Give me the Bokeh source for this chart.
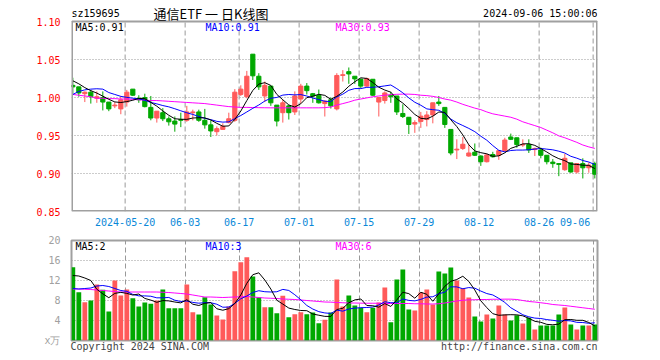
from bokeh.plotting import figure
from bokeh.layouts import column
from bokeh.models import Range1d, FixedTicker, NumeralTickFormatter, Label, ColumnDataSource
from bokeh.core.properties import value
from bokeh.embed import file_html
from bokeh.resources import INLINE

# ---------------- data ----------------
opens = [1.016, 1.014, 1.005, 1.007, 0.999, 1.000, 0.994, 0.989, 0.985, 0.994,
         1.011, 0.999, 1.000, 0.987, 0.973, 0.980, 0.972, 0.969, 0.971, 0.970,
         0.980, 0.981, 0.970, 0.964, 0.955, 0.958, 0.967, 0.970, 1.004, 1.001,
         1.057, 1.028, 1.002, 1.015, 0.990, 0.980, 0.989, 0.981, 0.998, 1.015,
         1.005, 1.003, 0.992, 0.997, 0.985, 1.029, 1.034, 1.028, 1.024, 1.015,
         1.024, 0.994, 0.996, 1.003, 1.002, 0.979, 0.974, 0.965, 0.9685, 0.971,
         0.977, 0.994, 0.987, 0.958, 0.931, 0.933, 0.923, 0.928, 0.923, 0.9155,
         0.925, 0.924, 0.930, 0.948, 0.947, 0.9375, 0.938, 0.9315, 0.931, 0.924,
         0.915, 0.913, 0.905, 0.914, 0.902, 0.913, 0.9075, 0.913]
highs = [1.026, 1.014, 1.008, 1.010, 1.008, 1.008, 0.994, 0.994, 1.002, 1.010,
         1.011, 1.003, 1.005, 1.002, 0.982, 0.986, 0.975, 0.975, 0.980, 0.989,
         0.984, 0.984, 0.985, 0.970, 0.962, 0.966, 0.980, 1.011, 1.016, 1.035,
         1.057, 1.032, 1.021, 1.015, 0.990, 0.997, 0.990, 1.008, 1.018, 1.019,
         1.006, 1.0105, 0.9965, 1.000, 1.032, 1.036, 1.0395, 1.028, 1.025, 1.026,
         1.024, 1.000, 1.008, 1.0075, 1.002, 0.991, 0.974, 0.970, 0.981, 0.982,
         0.993, 1.002, 0.987, 0.958, 0.945, 0.948, 0.938, 0.9395, 0.924, 0.926,
         0.9285, 0.930, 0.947, 0.9525, 0.947, 0.945, 0.945, 0.934, 0.934, 0.924,
         0.919, 0.913, 0.926, 0.914, 0.913, 0.920, 0.9145, 0.9155]
lows = [1.005, 1.001, 0.994, 0.992, 0.993, 0.983, 0.982, 0.986, 0.978, 0.988,
        1.002, 0.993, 0.987, 0.970, 0.967, 0.969, 0.963, 0.955, 0.961, 0.968,
        0.970, 0.968, 0.959, 0.948, 0.950, 0.958, 0.966, 0.968, 1.002, 0.999,
        1.023, 1.010, 0.994, 0.989, 0.962, 0.967, 0.971, 0.977, 0.992, 1.004,
        0.993, 0.992, 0.975, 0.9855, 0.983, 1.021, 1.018, 1.018, 1.012, 1.014,
        1.002, 0.975, 0.992, 0.993, 0.977, 0.973, 0.952, 0.9535, 0.960, 0.962,
        0.966, 0.989, 0.960, 0.924, 0.919, 0.931, 0.922, 0.923, 0.910, 0.9145,
        0.921, 0.918, 0.9285, 0.944, 0.934, 0.935, 0.927, 0.923, 0.920, 0.912,
        0.9075, 0.8965, 0.9035, 0.901, 0.900, 0.8935, 0.901, 0.8935]
closes = [1.014, 1.006, 1.007, 1.001, 1.001, 0.994, 0.985, 0.990, 0.997, 1.007,
          1.003, 0.997, 0.988, 0.973, 0.982, 0.972, 0.968, 0.965, 0.970, 0.981,
          0.981, 0.970, 0.964, 0.956, 0.959, 0.962, 0.972, 1.007, 1.011, 1.028,
          1.0285, 1.014, 1.016, 0.993, 0.969, 0.993, 0.980, 1.002, 1.015, 1.009,
          1.002, 0.993, 0.995, 0.989, 1.029, 1.030, 1.031, 1.0245, 1.015, 1.025,
          1.003, 1.000, 1.006, 1.001, 0.981, 0.975, 0.9645, 0.967, 0.9755, 0.977,
          0.993, 0.992, 0.9645, 0.927, 0.932, 0.9385, 0.927, 0.924, 0.9155, 0.9245,
          0.922, 0.930, 0.944, 0.945, 0.938, 0.938, 0.931, 0.933, 0.924, 0.9155,
          0.913, 0.912, 0.920, 0.902, 0.913, 0.9075, 0.911, 0.899]
volumes = [14.67, 9.67, 7.67, 8.0, 11.2, 10.13, 5.8, 12.0, 9.0, 10.2,
           8.47, 6.8, 7.6, 7.33, 8.0, 10.2, 6.47, 6.47, 6.47, 11.2,
           5.67, 5.2, 8.67, 7.2, 5.0, 4.2, 6.8, 13.87, 15.67, 16.67,
           12.8, 8.67, 6.67, 6.67, 5.47, 8.93, 4.67, 5.27, 5.67, 5.27,
           5.6, 3.47, 4.13, 5.6, 12.2, 6.8, 9.0, 7.0, 6.53, 5.67,
           6.53, 7.6, 10.6, 3.67, 12.2, 14.2, 6.2, 6.0, 9.6, 10.2,
           7.2, 13.8, 13.4, 14.6, 12.0, 10.47, 8.6, 4.8, 3.8, 5.2,
           4.4, 7.0, 5.2, 4.0, 5.07, 3.4, 4.53, 2.2, 3.0, 3.0,
           3.0, 5.2, 6.6, 3.2, 2.2, 3.0, 3.0, 3.2]

# moving-average values at the start of the window
ma5_head = [1.022, 1.018, 1.013, 1.009]
ma10_head = [1.004, 1.008, 1.010, 1.011, 1.0115, 1.011, 1.0065, 1.004, 1.0015]
ma30_price = [1.004, 1.003, 1.002, 1.001, 0.999, 0.999, 0.9985, 0.9985, 0.998, 0.998,
              0.9975, 0.997, 0.9965, 0.996, 0.996, 0.9955, 0.995, 0.9945, 0.994, 0.9935,
              0.993, 0.9925, 0.992, 0.991, 0.990, 0.989, 0.988, 0.9875, 0.987, 0.987,
              0.9868, 0.9866, 0.9865, 0.9864, 0.9864, 0.9864, 0.9864, 0.9864, 0.9864, 0.9864,
              0.9864, 0.9864, 0.9866, 0.9875, 0.990, 0.992, 0.994, 0.9965, 0.998, 0.9995,
              1.001, 1.002, 1.003, 1.0038, 1.0042, 1.0044, 1.0044, 1.004, 1.003, 1.0025,
              1.0015, 1.000, 0.998, 0.9965, 0.994, 0.991, 0.9885, 0.986, 0.984, 0.981,
              0.9785, 0.977, 0.9755, 0.974, 0.9715, 0.968, 0.9655, 0.963, 0.9605, 0.957,
              0.9535, 0.9495, 0.947, 0.944, 0.941, 0.9375, 0.935, 0.933]
vol_ma5_head = [13.0, 12.9, 12.5, 12.0]
vol_ma10_head = [10.4, 10.3, 10.4, 10.5, 10.9, 11.0, 10.8, 10.4, 10.0]
vol_ma30 = [10.3, 10.3, 10.25, 10.2, 10.1, 10.0, 9.9, 9.8, 9.7, 9.7,
            9.7, 9.7, 9.7, 9.7, 9.7, 9.65, 9.6, 9.5, 9.4, 9.3,
            9.1, 8.9, 8.7, 8.7, 8.65, 8.6, 8.65, 8.7, 8.75, 8.8,
            8.7, 8.6, 8.5, 8.45, 8.4, 8.3, 8.25, 8.2, 8.1, 8.0,
            7.9, 7.8, 7.7, 7.67, 7.6, 7.55, 7.5, 7.5, 7.47, 7.45,
            7.45, 7.45, 7.4, 7.4, 7.4, 7.4, 7.4, 7.35, 7.35, 7.3,
            7.3, 7.35, 7.5, 7.7, 7.9, 8.05, 8.13, 8.15, 8.2, 8.2,
            8.25, 8.25, 8.27, 8.27, 8.2, 8.0, 7.8, 7.7, 7.55, 7.4,
            7.2, 7.1, 7.0, 6.85, 6.7, 6.55, 6.4, 6.25]

tick_index = [9, 19, 28, 38, 48, 58, 68, 78, 87]
tick_labels = ["2024-05-20", "06-03", "06-17", "07-01", "07-15", "07-29", "08-12", "08-26", "09-06"]
price_ticks = [0.85, 0.90, 0.95, 1.00, 1.05, 1.10]
vol_ticks = [0, 4, 8, 12, 16, 20]

header_code = "sz159695"
header_title = "通信ETF 一 日K线图"
header_time = "2024-09-06 15:00:06"
price_ma_text = ["MA5:0.91", "MA10:0.91", "MA30:0.93"]
vol_ma_text = ["MA5:2", "MA10:3", "MA30:6"]
vol_unit = "x万"
foot_left = "Copyright 2024 SINA.COM"
foot_right = "http://finance.sina.com.cn"

# ---------------- helpers ----------------
def rolling(vals, n, head):
    out = list(head)
    for i in range(len(head), len(vals)):
        out.append(sum(vals[i - n + 1:i + 1]) / n)
    return out

RED = "#ff5a5a"
GREEN = "#00a800"
MONO = "DejaVu Sans Mono"
CHAR_W = 6.02  # advance of MONO at 10px
GRID = "#999999"
FRAME = "#a0a0a0"

n = len(closes)
X_OFF = 0.28
xs = [i + X_OFF for i in range(n)]
cols = [RED if c >= o else GREEN for o, c in zip(opens, closes)]

src = ColumnDataSource(dict(
    x=xs, o=opens, h=highs, l=lows, c=closes,
    top=[max(o, c) for o, c in zip(opens, closes)],
    bot=[min(o, c) for o, c in zip(opens, closes)],
    color=cols, vol=volumes,
    ma5=rolling(closes, 5, ma5_head), ma10=rolling(closes, 10, ma10_head), ma30=ma30_price,
    vma5=rolling(volumes, 5, vol_ma5_head), vma10=rolling(volumes, 10, vol_ma10_head), vma30=vol_ma30,
))

W = 656
FRAME_L = 71
FRAME_W = 526
BR = W - FRAME_L - FRAME_W
x_range = Range1d(0.06, 0.06 + FRAME_W / 6.0)
PX = (x_range.end - x_range.start) / FRAME_W


def px_to_x(page_x):
    return x_range.start + (page_x - FRAME_L) * PX


def style_axes(p):
    p.background_fill_color = "white"
    p.border_fill_color = "white"
    for ax in p.yaxis:
        ax.axis_line_color = None
        ax.major_tick_line_color = None
        ax.minor_tick_line_color = None
        ax.major_label_text_font = MONO
        ax.major_label_text_font_size = "10px"
        ax.major_label_standoff = 5
    p.ygrid.grid_line_color = GRID
    p.ygrid.grid_line_dash = "1 2"
    for ax in p.xaxis:
        ax.axis_line_color = None
        ax.major_tick_line_color = None
        ax.minor_tick_line_color = None
        ax.major_tick_out = 0
        ax.major_label_text_font = MONO
        ax.major_label_text_font_size = "10px"


# ---------------- price panel (the header row lives in the top of its frame) ----------------
P_LO, P_HI = price_ticks[0], price_ticks[-1]
P_PANEL_H = 190          # pixels from 1.10 to 0.85
HEAD_H = 21              # header strip above the price panel
PY = (P_HI - P_LO) / P_PANEL_H
p1 = figure(width=W, height=HEAD_H + P_PANEL_H + 19, x_range=x_range,
            y_range=Range1d(P_LO, P_HI + HEAD_H * PY),
            output_backend="svg", toolbar_location=None,
            min_border_left=FRAME_L, min_border_right=BR, min_border_top=0, min_border_bottom=19)
style_axes(p1)
p1.outline_line_color = None
p1.xgrid.visible = False
p1.yaxis.ticker = FixedTicker(ticks=price_ticks)
p1.yaxis.formatter = NumeralTickFormatter(format="0.00")
p1.yaxis.major_label_text_color = "#ff0000"

label_pos = tick_index[:-1] + [tick_index[-1] - 3]
p1.xaxis.ticker = FixedTicker(ticks=label_pos)
p1.xaxis.major_label_overrides = {k: v for k, v in zip(label_pos, tick_labels)}
p1.xaxis.major_label_text_color = "#0a88d8"
p1.xaxis.major_label_standoff = 6

# vertical dashed date lines, limited to the price panel
p1.segment(x0=tick_index, y0=[P_LO] * len(tick_index), x1=tick_index, y1=[P_HI] * len(tick_index),
           line_color=GRID, line_dash="5 3", line_width=1)

p1.segment(x0="x", y0="l", x1="x", y1="h", color="color", line_width=1, source=src)
p1.vbar(x="x", width=0.7, top="top", bottom="bot", fill_color="color", line_color="color",
        line_width=1, source=src)
p1.line("x", "ma30", color="#ff00ff", line_width=1, source=src)
p1.line("x", "ma10", color="#0000ff", line_width=1, source=src)
p1.line("x", "ma5", color="#000000", line_width=1, source=src)

# panel border
p1.quad(left=[x_range.start + 0.5 * PX], right=[x_range.end - 0.5 * PX],
        bottom=[P_LO + 0.5 * PY], top=[P_HI], fill_color=None, line_color=FRAME, line_width=2)

# header row
hy = P_HI + 8 * PY
p1.text(x=[px_to_x(71)], y=[hy], text=[header_code], text_font=value(MONO), text_font_size="10px",
        text_color="#000000", text_baseline="middle", text_align="left")
p1.text(x=[px_to_x(210.5)], y=[hy], text=[header_title], text_font=value("Noto Sans CJK SC"),
        text_font_size="13px", text_color="#000000", text_baseline="middle", text_align="center")
p1.text(x=[x_range.end], y=[hy], text=[header_time], text_font=value(MONO),
        text_font_size="10px", text_color="#000000", text_baseline="middle", text_align="right")

ma_colors = ["#000000", "#0000ff", "#ff00ff"]
ma_left = [75, 205, 335]
for t, col, lx in zip(price_ma_text, ma_colors, ma_left):
    p1.add_layout(Label(x=px_to_x(lx), y=P_HI - 5.5 * PY, text=t, text_font=MONO,
                        text_font_size="10px", text_color=col, text_baseline="middle"))

# ---------------- volume panel ----------------
V_FRAME_H = 100
p2 = figure(width=W, height=10 + V_FRAME_H + 14, x_range=x_range, y_range=Range1d(0, 20),
            output_backend="svg", toolbar_location=None,
            min_border_left=FRAME_L, min_border_right=BR, min_border_top=10, min_border_bottom=14)
style_axes(p2)
p2.outline_line_color = FRAME
p2.outline_line_width = 2
p2.xgrid.ticker = FixedTicker(ticks=tick_index)
p2.xgrid.grid_line_color = GRID
p2.xgrid.grid_line_dash = "5 3"
p2.yaxis.ticker = FixedTicker(ticks=vol_ticks)
p2.yaxis.major_label_overrides = {0: vol_unit}
p2.yaxis.major_label_text_color = "#a0a0a0"

# footer texts carried by the bottom axis of the volume panel
foot_pos = [round(px_to_x(70 + len(foot_left) * CHAR_W / 2), 3),
            round(px_to_x(FRAME_L + FRAME_W - len(foot_right) * CHAR_W / 2), 3)]
p2.xaxis.ticker = FixedTicker(ticks=foot_pos)
p2.xaxis.major_label_overrides = {foot_pos[0]: foot_left, foot_pos[1]: foot_right}
p2.xaxis.major_label_standoff = 0
p2.xaxis.major_label_text_color = "#444444"

p2.vbar(x="x", width=0.8, top="vol", bottom=0, fill_color="color", line_color=None, source=src)
p2.line("x", "vma30", color="#ff00ff", line_width=1, source=src)
p2.line("x", "vma10", color="#0000ff", line_width=1, source=src)
p2.line("x", "vma5", color="#000000", line_width=1, source=src)

VY = 20 / V_FRAME_H
for t, col, lx in zip(vol_ma_text, ma_colors, ma_left):
    p2.add_layout(Label(x=px_to_x(lx), y=20 - 6 * VY, text=t, text_font=MONO,
                        text_font_size="10px", text_color=col, text_baseline="middle"))

layout = column(p1, p2, spacing=0)
open("out.html", "w").write(file_html(layout, INLINE))
